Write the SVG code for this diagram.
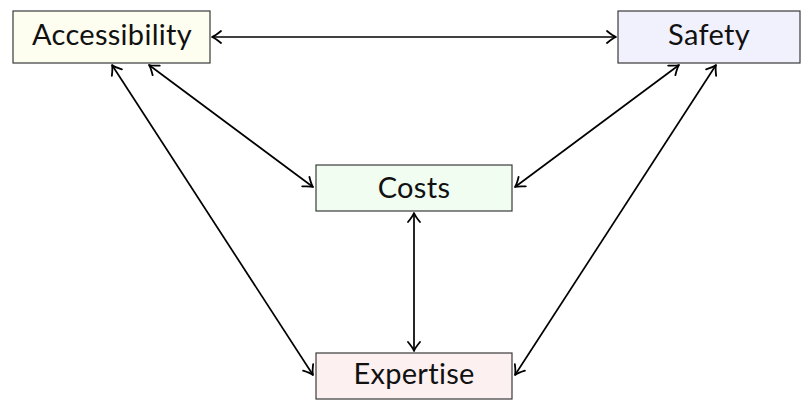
<svg xmlns="http://www.w3.org/2000/svg" width="802" height="400" viewBox="0 0 802 400">
<style>
.box{stroke:#3a3a3a;stroke-width:1.2}
.lbl{font-family:Lato,"Open Sans","Liberation Sans",sans-serif;font-size:29px;fill:#111;text-anchor:middle;font-variant-ligatures:none;letter-spacing:0.3px}
.edge{stroke:#000;stroke-width:1.7;fill:none;marker-start:url(#ah);marker-end:url(#ah)}
</style>
<defs>
<marker id="ah" viewBox="-11 -7 13 14" refX="0" refY="0" markerWidth="13" markerHeight="14" markerUnits="userSpaceOnUse" orient="auto-start-reverse">
<path d="M-9,-6 Q-3,-1 0,0 Q-3,1 -9,6" fill="none" stroke="#000" stroke-width="1.8" stroke-linecap="round" stroke-linejoin="round"/>
</marker>
</defs>
<rect width="802" height="400" fill="#fff"/>
<g id="connectors">
<line class="edge" x1="212" y1="37" x2="616" y2="37"/>
<line class="edge" x1="149" y1="65" x2="313" y2="187"/>
<line class="edge" x1="112" y1="65" x2="313" y2="375"/>
<line class="edge" x1="679" y1="65" x2="515" y2="187"/>
<line class="edge" x1="716" y1="65" x2="515" y2="375"/>
<line class="edge" x1="414" y1="213" x2="414" y2="351"/>
</g>
<g id="accessibility">
<rect class="box" x="13" y="11" width="197" height="52" fill="#fefef0"/>
<text class="lbl" x="112" y="45">Accessibility</text>
</g>
<g id="safety">
<rect class="box" x="618" y="11" width="182" height="52" fill="#f1f1fd"/>
<text class="lbl" x="709" y="45">Safety</text>
</g>
<g id="costs">
<rect class="box" x="316" y="165" width="196" height="46" fill="#f0fdf0"/>
<text class="lbl" x="414" y="198">Costs</text>
</g>
<g id="expertise">
<rect class="box" x="316" y="353" width="196" height="46" fill="#fdf0f0"/>
<text class="lbl" x="414" y="384">Expertise</text>
</g>
</svg>
